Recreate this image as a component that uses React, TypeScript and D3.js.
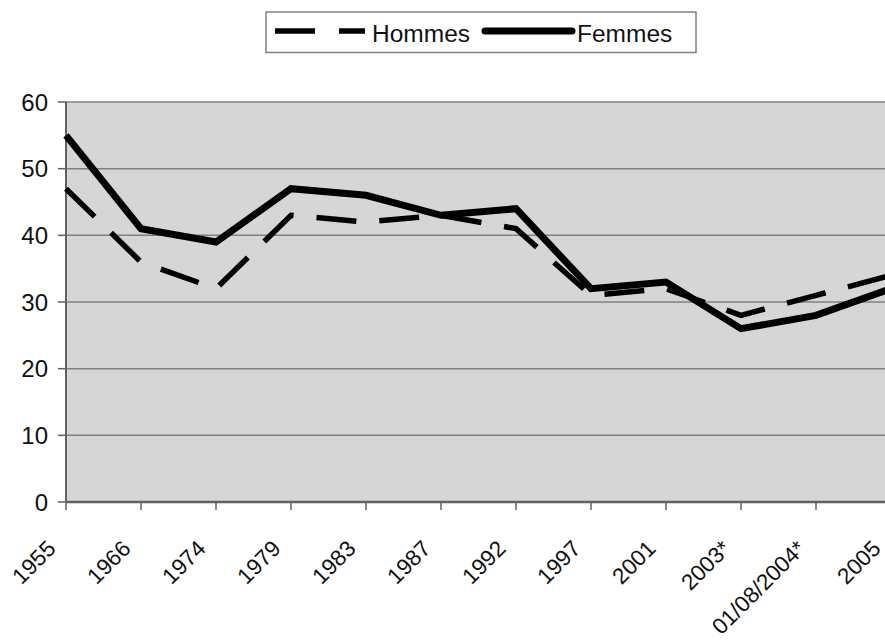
import React from "react";
import * as d3 from "d3";

const categories = ["1955", "1966", "1974", "1979", "1983", "1987", "1992", "1997", "2001", "2003*", "01/08/2004*", "2005"];
const hommes = [47, 36, 32, 43, 42, 43, 41, 31, 32, 28, 31, 34];
const femmes = [55, 41, 39, 47, 46, 43, 44, 32, 33, 26, 28, 32];
const yTicks = [0, 10, 20, 30, 40, 50, 60];

const W = 885;
const H = 643;
const FONT = "'Liberation Sans', Arial, sans-serif";

export default function App() {
  const x = d3.scalePoint<string>().domain(categories).range([66, 891]);
  const y = d3.scaleLinear().domain([0, 60]).range([502, 102]);
  const line = d3
    .line<number>()
    .x((_, i) => x(categories[i]) as number)
    .y((d) => y(d));

  return (
    <>
      <style>{`body{margin:0}`}</style>
      <svg width={W} height={H} style={{ display: "block", background: "#fff" }} fontFamily={FONT}>
        {/* plot background */}
        <rect x={66} y={y(60)} width={891 - 66} height={y(0) - y(60)} fill="#d6d6d6" />
        {/* gridlines */}
        {yTicks.map((t) => (
          <line key={"g" + t} x1={66} x2={891} y1={y(t)} y2={y(t)} stroke="#808080" strokeWidth={1.5} />
        ))}
        {/* y axis */}
        <line x1={66} x2={66} y1={y(60)} y2={y(0)} stroke="#606060" strokeWidth={2} />
        {yTicks.map((t) => (
          <g key={"y" + t}>
            <line x1={58} x2={66} y1={y(t)} y2={y(t)} stroke="#606060" strokeWidth={1.5} />
            <text x={48} y={y(t) + 8.5} textAnchor="end" fontSize={24} fill="#111">
              {t}
            </text>
          </g>
        ))}
        {/* x axis */}
        <line x1={66} x2={891} y1={y(0)} y2={y(0)} stroke="#606060" strokeWidth={2.5} />
        {categories.map((c) => {
          const cx = x(c) as number;
          return (
            <g key={"x" + c}>
              <line x1={cx} x2={cx} y1={y(0)} y2={y(0) + 8} stroke="#606060" strokeWidth={1.5} />
              <text
                transform={`translate(${cx - 9},${550}) rotate(-45)`}
                textAnchor="end"
                fontSize={22.5}
                fill="#111"
              >
                {c}
              </text>
            </g>
          );
        })}
        {/* series */}
        <path d={line(hommes) || ""} fill="none" stroke="#000" strokeWidth={5.5} strokeDasharray="40 23" />
        <path d={line(femmes) || ""} fill="none" stroke="#000" strokeWidth={7} strokeLinejoin="miter" />
        {/* legend */}
        <rect x={266} y={12} width={430} height={40.5} fill="#fff" stroke="#808080" strokeWidth={1.5} />
        <line x1={275} x2={365} y1={31} y2={31} stroke="#000" strokeWidth={5.5} strokeDasharray="40 24" />
        <text x={372} y={41.5} fontSize={24.5} fill="#111">Hommes</text>
        <line x1={485} x2={572} y1={31} y2={31} stroke="#000" strokeWidth={7} strokeLinecap="round" />
        <text x={577} y={41.5} fontSize={24.5} fill="#111">Femmes</text>
      </svg>
    </>
  );
}
